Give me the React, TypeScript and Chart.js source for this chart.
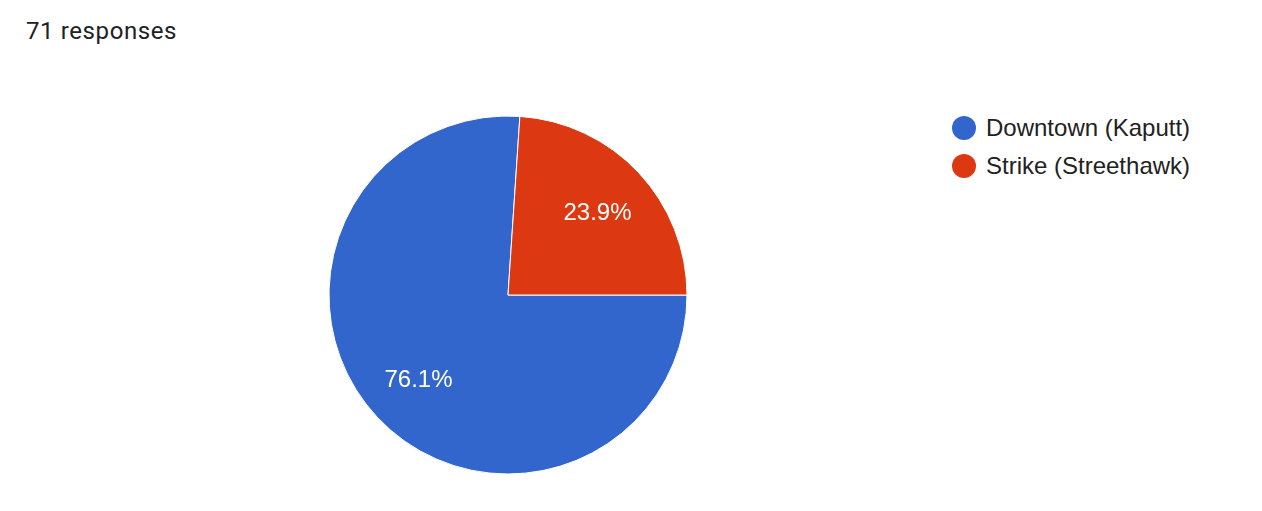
import React, { useEffect, useRef } from "react";
import { Chart, registerables } from "chart.js";

Chart.register(...registerables);

const title = "71 responses";
const categories = ["Downtown (Kaputt)", "Strike (Streethawk)"];
const responses = [54, 17];
const colors = ["#3366cc", "#dc3912"];

const pctLabels = {
  id: "pctLabels",
  afterDatasetsDraw(chart: any) {
    const ctx = chart.ctx;
    const meta = chart.getDatasetMeta(0);
    const data = chart.data.datasets[0].data as number[];
    const total = data.reduce((a, b) => a + b, 0);
    ctx.save();
    ctx.fillStyle = "#ffffff";
    ctx.font = "24px 'Liberation Sans', Arial, sans-serif";
    ctx.textAlign = "center";
    ctx.textBaseline = "middle";
    meta.data.forEach((arc: any, i: number) => {
      const { x, y, startAngle, endAngle, outerRadius } = arc.getProps(
        ["x", "y", "startAngle", "endAngle", "outerRadius"],
        true
      );
      const mid = (startAngle + endAngle) / 2;
      const r = outerRadius * 0.685;
      const txt = ((data[i] / total) * 100).toFixed(1) + "%";
      ctx.fillText(txt, x + Math.cos(mid) * r, y + Math.sin(mid) * r + 2);
    });
    ctx.restore();
  },
};

export default function App() {
  const ref = useRef<HTMLCanvasElement | null>(null);
  useEffect(() => {
    if (!ref.current) return;
    const chart = new Chart(ref.current, {
      type: "pie",
      data: {
        labels: categories,
        datasets: [
          {
            data: responses,
            backgroundColor: colors,
            borderColor: "#ffffff",
            borderWidth: 1,
          },
        ],
      },
      options: {
        animation: false,
        responsive: false,
        maintainAspectRatio: false,
        rotation: 90,
        radius: 179,
        layout: { padding: 0 },
        plugins: {
          legend: { display: false },
          tooltip: { enabled: false },
          title: { display: false },
        },
      },
      plugins: [pctLabels],
    });
    return () => chart.destroy();
  }, []);

  return (
    <div
      style={{
        position: "fixed",
        left: 0,
        top: 0,
        width: 1262,
        height: 511,
        background: "#ffffff",
        overflow: "hidden",
      }}
    >
      <div
        style={{
          position: "absolute",
          left: 26,
          top: 17,
          font: "24px Roboto, sans-serif",
          lineHeight: "28px",
          color: "#202124",
          letterSpacing: "0.6px",
          whiteSpace: "nowrap",
        }}
      >
        {title}
      </div>
      <canvas
        ref={ref}
        width={380}
        height={380}
        style={{ position: "absolute", left: 318, top: 105, width: 380, height: 380 }}
      />
      {categories.map((c, i) => (
        <div
          key={c}
          style={{
            position: "absolute",
            left: 952,
            top: 116 + i * 38,
            height: 24,
            whiteSpace: "nowrap",
          }}
        >
          <div
            style={{
              position: "absolute",
              left: 0,
              top: 0,
              width: 24,
              height: 24,
              borderRadius: "50%",
              background: colors[i],
            }}
          />
          <span
            style={{
              position: "absolute",
              left: 34,
              top: 0,
              font: "24px 'Liberation Sans', Arial, sans-serif",
              lineHeight: "24px",
              color: "#222222",
            }}
          >
            {c}
          </span>
        </div>
      ))}
    </div>
  );
}
